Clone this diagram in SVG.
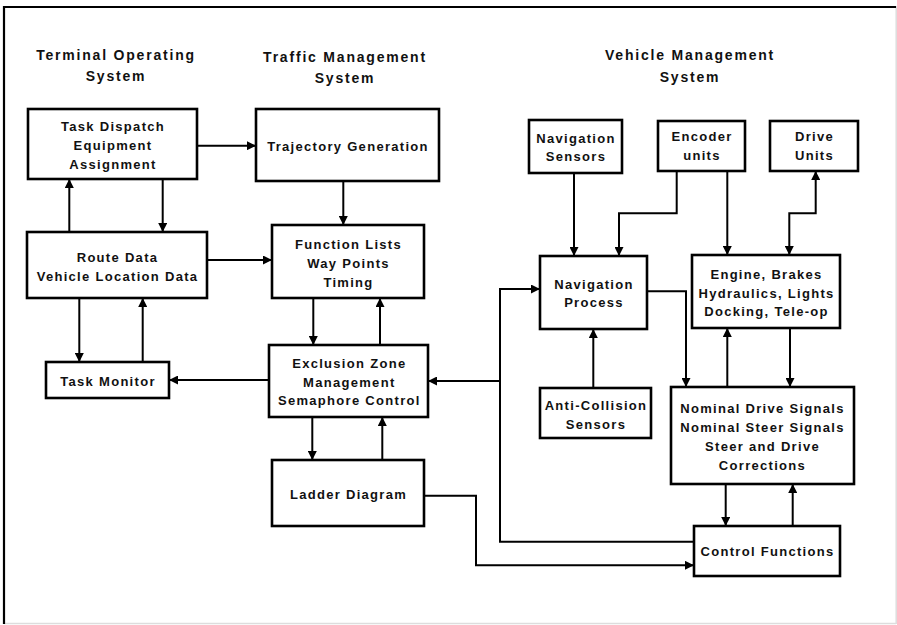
<svg xmlns="http://www.w3.org/2000/svg" width="897" height="625" viewBox="0 0 897 625">
<defs>
<marker id="ah" viewBox="0 0 10 10" refX="10" refY="5" markerWidth="4.5" markerHeight="4.5" orient="auto-start-reverse" markerUnits="strokeWidth">
<path d="M0,0 L10,5 L0,10 z" fill="#000"/>
</marker>
<style>
.box{fill:#fff;stroke:#000;stroke-width:2.6}
.t{font-family:"Liberation Sans",Arial,sans-serif;font-weight:bold;font-size:13px;letter-spacing:1.3px;text-anchor:middle;fill:#111}
.h{font-family:"Liberation Sans",Arial,sans-serif;font-weight:bold;font-size:14px;letter-spacing:1.8px;text-anchor:middle;fill:#111}
.c{fill:none;stroke:#000;stroke-width:2}
.a{marker-end:url(#ah)}
.b{marker-start:url(#ah);marker-end:url(#ah)}
</style>
</defs>
<rect width="897" height="625" fill="#fff"/>
<g id="frame">
<line x1="4" y1="623.5" x2="896" y2="623.5" stroke="#ddd" stroke-width="1.5"/>
<line x1="896.2" y1="6" x2="896.2" y2="624" stroke="#ddd" stroke-width="1.5"/>
<line x1="4" y1="7" x2="896" y2="7" stroke="#000" stroke-width="2.2"/>
<line x1="4" y1="6" x2="4" y2="624" stroke="#000" stroke-width="2.2"/>
</g>
<g id="titles">
<text class="h" x="116" y="60">Terminal Operating</text>
<text class="h" x="116" y="81">System</text>
<text class="h" x="345" y="62">Traffic Management</text>
<text class="h" x="345" y="83">System</text>
<text class="h" x="690" y="60">Vehicle Management</text>
<text class="h" x="690" y="82">System</text>
</g>
<g id="connectors">
<path class="c a" d="M197,145.7 H256"/>
<path class="c a" d="M69.3,232 V179"/>
<path class="c a" d="M162.7,179 V232"/>
<path class="c a" d="M207,260 H272"/>
<path class="c a" d="M343.3,181 V225"/>
<path class="c a" d="M79.3,298 V362"/>
<path class="c a" d="M142.7,362 V298"/>
<path class="c a" d="M313.3,298 V345"/>
<path class="c a" d="M380,345 V298"/>
<path class="c a" d="M269,380 H169"/>
<path class="c a" d="M312.3,417 V460"/>
<path class="c a" d="M382.3,460 V417"/>
<path class="c a" d="M424,495.7 H476 V565.3 H694"/>
<path class="c a" d="M694,541.7 H500 V289 H540"/>
<path class="c a" d="M500,381 H428"/>
<path class="c a" d="M574,173 V256"/>
<path class="c a" d="M676.7,171 V213.3 H619 V256"/>
<path class="c a" d="M727.3,171 V255"/>
<path class="c b" d="M789.3,255 V213.3 H815.7 V171"/>
<path class="c a" d="M647,291.3 H686 V387"/>
<path class="c a" d="M727.3,387 V328"/>
<path class="c a" d="M790,328 V387"/>
<path class="c a" d="M593.3,388 V329"/>
<path class="c a" d="M725.7,484 V526"/>
<path class="c a" d="M792.7,526 V484"/>
</g>
<g id="task-dispatch">
<rect class="box" x="28" y="109" width="169" height="70"/>
<text class="t" x="113" y="131.3">Task Dispatch</text>
<text class="t" x="113" y="150">Equipment</text>
<text class="t" x="113" y="168.7">Assignment</text>
</g>
<g id="trajectory-generation">
<rect class="box" x="256" y="109" width="183" height="72"/>
<text class="t" x="348" y="150.5">Trajectory Generation</text>
</g>
<g id="route-data">
<rect class="box" x="27" y="232" width="180" height="66"/>
<text class="t" x="117.5" y="261.5">Route Data</text>
<text class="t" x="117.5" y="280.5">Vehicle Location Data</text>
</g>
<g id="function-lists">
<rect class="box" x="272" y="225" width="152" height="73"/>
<text class="t" x="348.5" y="248.5">Function Lists</text>
<text class="t" x="348.5" y="267.5">Way Points</text>
<text class="t" x="348.5" y="286.5">Timing</text>
</g>
<g id="task-monitor">
<rect class="box" x="46" y="362" width="123" height="36"/>
<text class="t" x="108" y="385.5">Task Monitor</text>
</g>
<g id="exclusion-zone">
<rect class="box" x="269" y="345" width="159" height="72"/>
<text class="t" x="349.3" y="368">Exclusion Zone</text>
<text class="t" x="349.3" y="386.5">Management</text>
<text class="t" x="349.3" y="405">Semaphore Control</text>
</g>
<g id="ladder-diagram">
<rect class="box" x="272" y="460" width="152" height="66"/>
<text class="t" x="348.5" y="499">Ladder Diagram</text>
</g>
<g id="navigation-sensors">
<rect class="box" x="529" y="120" width="93" height="53"/>
<text class="t" x="576" y="142.5">Navigation</text>
<text class="t" x="576" y="161">Sensors</text>
</g>
<g id="encoder-units">
<rect class="box" x="658" y="121" width="87" height="50"/>
<text class="t" x="702" y="141">Encoder</text>
<text class="t" x="702" y="160">units</text>
</g>
<g id="drive-units">
<rect class="box" x="770" y="121" width="88" height="50"/>
<text class="t" x="814.5" y="141">Drive</text>
<text class="t" x="814.5" y="160">Units</text>
</g>
<g id="navigation-process">
<rect class="box" x="540" y="256" width="107" height="73"/>
<text class="t" x="594" y="288.5">Navigation</text>
<text class="t" x="594" y="307">Process</text>
</g>
<g id="engine-brakes">
<rect class="box" x="692" y="255" width="148" height="73"/>
<text class="t" x="766.5" y="278.5">Engine, Brakes</text>
<text class="t" x="766.5" y="297.5">Hydraulics, Lights</text>
<text class="t" x="766.5" y="316">Docking, Tele-op</text>
</g>
<g id="anti-collision">
<rect class="box" x="540" y="388" width="111" height="50"/>
<text class="t" x="596" y="410">Anti-Collision</text>
<text class="t" x="596" y="428.5">Sensors</text>
</g>
<g id="nominal-signals">
<rect class="box" x="671" y="387" width="183" height="97"/>
<text class="t" x="762.5" y="413">Nominal Drive Signals</text>
<text class="t" x="762.5" y="432">Nominal Steer Signals</text>
<text class="t" x="762.5" y="451">Steer and Drive</text>
<text class="t" x="762.5" y="470">Corrections</text>
</g>
<g id="control-functions">
<rect class="box" x="694" y="526" width="146" height="50"/>
<text class="t" x="767.5" y="556">Control Functions</text>
</g>
</svg>
